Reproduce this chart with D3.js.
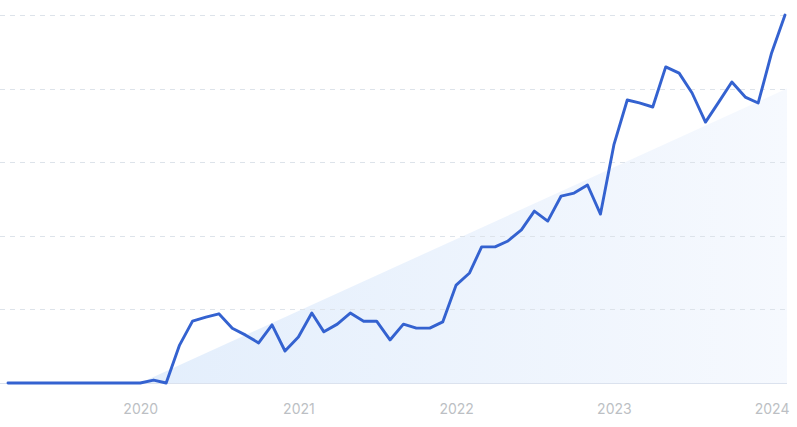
<!DOCTYPE html>
<html>
<head>
<meta charset="utf-8">
<script src="https://cdn.jsdelivr.net/npm/d3@7"></script>
<style>
  html, body { margin: 0; padding: 0; background: #fff; }
  svg { display: block; }
</style>
</head>
<body>
<svg id="chart" width="797" height="427"></svg>
<script>
// ---- Data ----
const startMonth = "2019-03";
const values = [
  0, 0, 0, 0, 0, 0, 0, 0, 0, 0,
  0, 0.8, 0, 10.3, 16.8, 17.9, 18.8, 14.9, 13.0, 10.9,
  15.8, 8.7, 12.5, 19.0, 13.9, 16.0, 19.0, 16.8, 16.8, 11.7,
  16.0, 14.9, 14.9, 16.6, 26.6, 29.9, 37.0, 37.0, 38.6, 41.6,
  46.7, 44.0, 50.8, 51.6, 53.8, 45.9, 64.7, 76.9, 76.1, 75.0,
  85.9, 84.2, 78.8, 70.9, 76.4, 81.8, 77.7, 76.1, 89.7, 100
];
const yTicks = [0, 20, 40, 60, 80, 100];
const xTickLabels = ["2020", "2021", "2022", "2023", "2024"];
const trendStart = { month: "2020-01", value: 0 };
const trendEnd = { month: "2024-02", value: 80 };

// ---- Build ----
const parse = d3.timeParse("%Y-%m");
const t0 = parse(startMonth);
const data = values.map((v, i) => ({ date: d3.timeMonth.offset(t0, i), value: v }));

const svg = d3.select("#chart");
const W = 797, H = 427;
const margin = { left: 8, right: 12, top: 15, bottom: 44 };

const x = d3.scaleTime()
  .domain(d3.extent(data, d => d.date))
  .range([margin.left, W - margin.right]);
const y = d3.scaleLinear()
  .domain([0, 100])
  .range([H - margin.bottom, margin.top]);

// gradient
const defs = svg.append("defs");
const grad = defs.append("linearGradient")
  .attr("id", "trendGrad")
  .attr("x1", "0%").attr("y1", "0%").attr("x2", "100%").attr("y2", "0%");
grad.append("stop").attr("offset", "0%").attr("stop-color", "#e3eefc");
grad.append("stop").attr("offset", "100%").attr("stop-color", "#f6f9fe");

// trend triangle
const tA = { date: parse(trendStart.month), value: trendStart.value };
const tB = { date: parse(trendEnd.month), value: trendEnd.value };
const triPts = [
  [x(tA.date), y(0)],
  [x(tB.date) + 2, y(tB.value)],
  [x(tB.date) + 2, y(0)]
];
svg.append("path")
  .attr("d", d3.line()(triPts) + "Z")
  .attr("fill", "url(#trendGrad)");

// gridlines
svg.append("g")
  .selectAll("line")
  .data(yTicks.filter(d => d > 0))
  .join("line")
  .attr("x1", 0)
  .attr("x2", W - margin.right + 2)
  .attr("y1", d => Math.round(y(d)) + 0.5)
  .attr("y2", d => Math.round(y(d)) + 0.5)
  .attr("stroke", "#dde3ea")
  .attr("stroke-width", 1)
  .attr("stroke-dasharray", "5,5");

// baseline
svg.append("line")
  .attr("x1", 0)
  .attr("x2", W - margin.right + 2)
  .attr("y1", Math.round(y(0)) + 0.5)
  .attr("y2", Math.round(y(0)) + 0.5)
  .attr("stroke", "#dbe2ee")
  .attr("stroke-width", 1);

// x axis labels
const xAxis = d3.axisBottom(x)
  .tickValues(xTickLabels.map(s => parse(s + "-01")))
  .tickFormat(d3.timeFormat("%Y"))
  .tickSize(0)
  .tickPadding(0);
const gx = svg.append("g")
  .attr("transform", `translate(0, ${H - 18})`)
  .call(xAxis);
gx.select(".domain").remove();
gx.selectAll("text")
  .attr("dy", "0.35em")
  .attr("fill", "#bcbfc4")
  .attr("font-family", "Inter, 'Noto Sans', sans-serif")
  .attr("font-size", 14);

// line
svg.append("path")
  .datum(data)
  .attr("fill", "none")
  .attr("stroke", "#3462d0")
  .attr("stroke-width", 2.9)
  .attr("stroke-linejoin", "round")
  .attr("stroke-linecap", "round")
  .attr("d", d3.line().x(d => x(d.date)).y(d => y(d.value)));
</script>
</body>
</html>
